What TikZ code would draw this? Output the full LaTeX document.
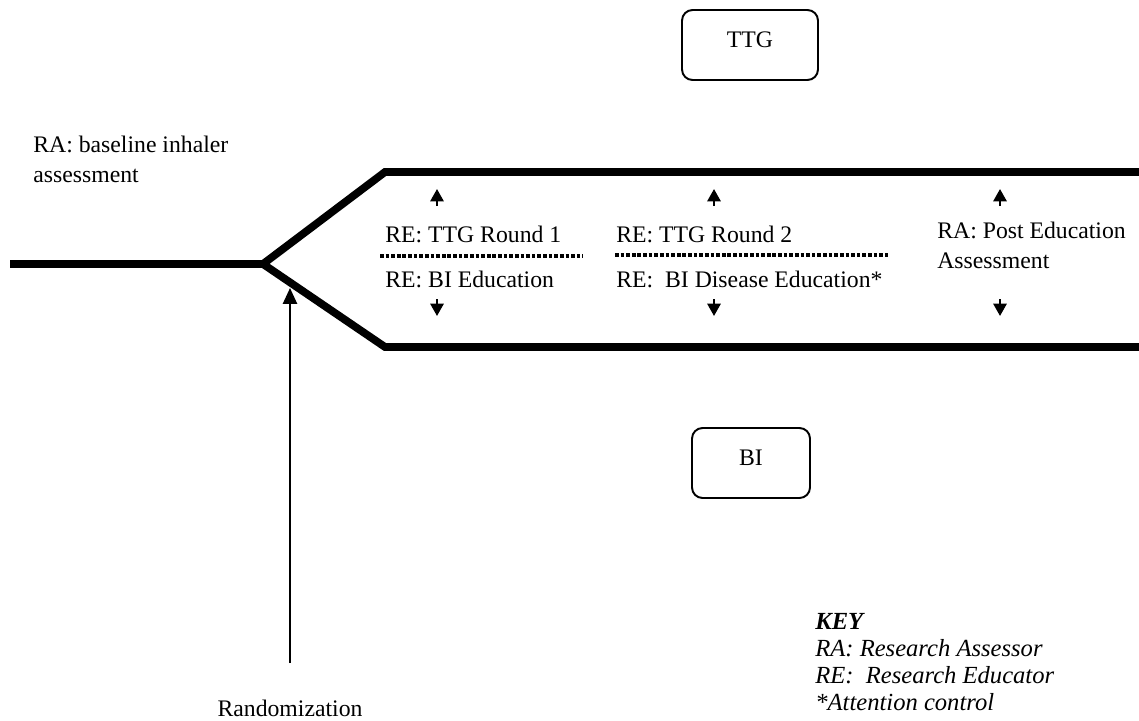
\documentclass[tikz,border=0pt]{standalone}
\usepackage{fontspec}
\setmainfont{Liberation Serif}
\usetikzlibrary{arrows.meta}
\begin{document}
\begin{tikzpicture}[x=0.02cm,y=-0.02cm,
  thickline/.style={line width=4.4pt},
  lbl/.style={anchor=west,inner sep=0pt,font=\fontsize{13.5}{17}\selectfont,align=left},
  keylbl/.style={anchor=west,inner sep=0pt,font=\fontsize{14}{15.2}\selectfont\itshape,align=left},
  grpbox/.style={draw,line width=1.1pt,rounded corners=6pt,font=\fontsize{13.5}{17}\selectfont,minimum height=1.4cm,text depth=6pt},
  tinyarrow/.style={line width=1.3pt,-{Triangle[length=7pt,width=7.5pt]}},
  sepline/.style={line width=2.2pt,dash pattern=on 2.1pt off 1.1pt},
  randarrow/.style={line width=1.1pt,-{Triangle[length=9pt,width=8pt]}}
]
\useasboundingbox (0,0) rectangle (1139,720);

% main pathways
\coordinate (start) at (10,264);
\coordinate (split) at (263,264);
\coordinate (ut) at (385,172);
\coordinate (ue) at (1139,172);
\coordinate (lt) at (385,347);
\coordinate (le) at (1139,347);
\draw[thickline] (start) -- (split);
\draw[thickline] (split) -- (ut) -- (ue);
\draw[thickline] (split) -- (lt) -- (le);

% group boxes
\node[grpbox,minimum width=2.72cm] (ttg) at (750,45) {TTG};
\node[grpbox,minimum width=2.36cm] (bi) at (751,463) {BI};

% texts
\node[lbl] (base) at (33,159) {RA: baseline inhaler\\assessment};
\node[lbl] (r1a) at (385,234) {RE: TTG Round 1};
\node[lbl] (r1b) at (385,279) {RE: BI Education};
\node[lbl] (r2a) at (616,234) {RE: TTG Round 2};
\node[lbl] (r2b) at (616,279) {RE:\ \ BI Disease Education*};
\node[lbl] (post) at (937,245) {RA: Post Education\\Assessment};
\node[keylbl] (key) at (815,662) {\textbf{KEY}\\RA: Research Assessor\\RE:\ \ Research Educator\\*Attention control};
\node (rand) at (290,708) {\fontsize{13.5}{17}\selectfont Randomization};

% dotted separators
\coordinate (d1a) at (380,256); \coordinate (d1b) at (583,256);
\coordinate (d2a) at (615,255); \coordinate (d2b) at (888,255);
\draw[sepline] (d1a) -- (d1b);
\draw[sepline] (d2a) -- (d2b);

% small arrows
\foreach \x/\n in {437/a,714/b,1000/c}{
  \coordinate (up\n b) at (\x,206); \coordinate (up\n t) at (\x,189);
  \coordinate (dn\n t) at (\x,299); \coordinate (dn\n b) at (\x,316);
  \draw[tinyarrow] (up\n b) -- (up\n t);
  \draw[tinyarrow] (dn\n t) -- (dn\n b);
}

% randomization arrow
\coordinate (randbot) at (290,663);
\coordinate (randtop) at (290,288);
\draw[randarrow] (randbot) -- (randtop);
\end{tikzpicture}
\end{document}
